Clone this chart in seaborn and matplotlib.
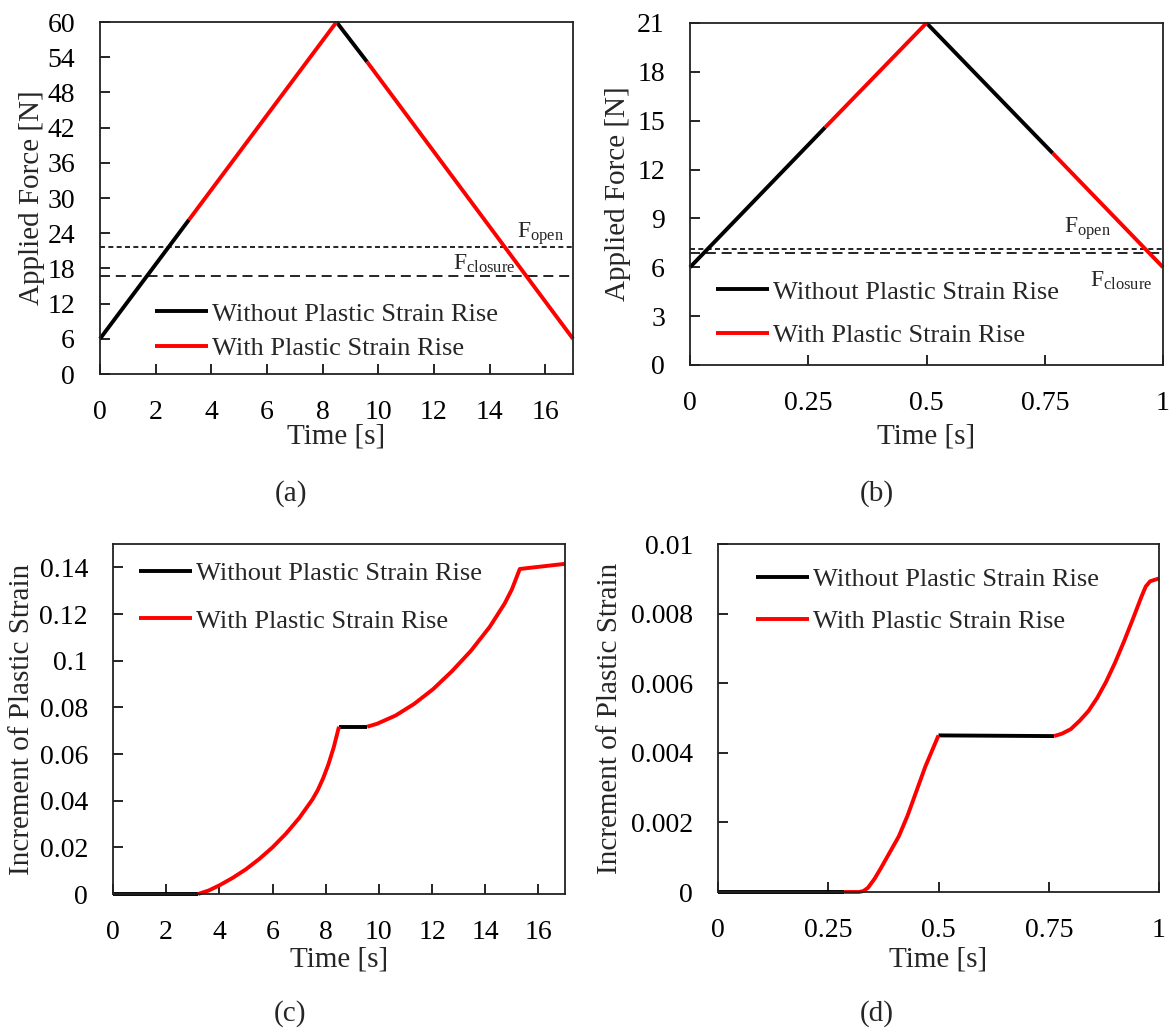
import numpy as np
import pandas as pd
import matplotlib
matplotlib.use("Agg")
import matplotlib.pyplot as plt
import seaborn as sns
from matplotlib.ticker import FuncFormatter

sns.set_style("ticks")
plt.rcParams["font.family"] = ["Liberation Serif", "DejaVu Serif"]
plt.rcParams["mathtext.fontset"] = "custom"
plt.rcParams["mathtext.rm"] = "Liberation Serif"
plt.rcParams["mathtext.it"] = "Liberation Serif:italic"

WITHOUT = "Without Plastic Strain Rise"
WITH = "With Plastic Strain Rise"

# ---------------- data ----------------
# (a) applied force, long cycle
a_time = [0, 3.2, 8.5, 9.6, 17]
a_force = [6, 26.3, 60, 53.2, 6]
a_state = [WITHOUT, WITH, WITHOUT, WITH]
a_f_open = 21.6
a_f_closure = 16.7

# (b) applied force, short cycle
b_time = [0, 0.286, 0.5, 0.767, 1.0]
b_force = [6, 14.6, 21, 13.0, 6]
b_state = [WITHOUT, WITH, WITHOUT, WITH]
b_f_open = 7.1
b_f_closure = 6.85

# (c) increment of plastic strain, long cycle
c_seg1_t = [0, 3.2]
c_seg1_v = [0, 0]
c_seg2_t = [3.2, 3.6, 4.0, 4.5, 5.0, 5.5, 6.0, 6.5, 7.0, 7.5, 7.7, 7.9, 8.1, 8.3, 8.5]
c_seg2_v = [0, 0.0015, 0.0037, 0.0069, 0.0106, 0.015, 0.02, 0.0258, 0.0325,
            0.0405, 0.0445, 0.0495, 0.0555, 0.0628, 0.0717]
c_seg3_t = [8.5, 9.56]
c_seg3_v = [0.0717, 0.0717]
c_seg4_t = [9.56, 9.92, 10.63, 11.33, 12.04, 12.75, 13.46, 14.17, 14.73, 15.0, 15.3, 17.0]
c_seg4_v = [0.0717, 0.0729, 0.0765, 0.0815, 0.0878, 0.0955, 0.1042, 0.1145,
            0.1245, 0.1305, 0.1393, 0.1415]

# (d) increment of plastic strain, short cycle
d_seg1_t = [0, 0.286]
d_seg1_v = [0, 0]
d_seg2_t = [0.286, 0.32, 0.33, 0.34, 0.355, 0.37, 0.39, 0.41, 0.43, 0.45, 0.47, 0.49, 0.5]
d_seg2_v = [0, 0, 0.00003, 0.00012, 0.00038, 0.0007, 0.00115, 0.0016, 0.0022,
            0.0029, 0.0036, 0.0042, 0.0045]
d_seg3_t = [0.5, 0.762]
d_seg3_v = [0.0045, 0.00448]
d_seg4_t = [0.762, 0.78, 0.80, 0.82, 0.84, 0.86, 0.88, 0.90, 0.92, 0.94, 0.96,
            0.97, 0.98, 1.0]
d_seg4_v = [0.00448, 0.00455, 0.00468, 0.00492, 0.0052, 0.00558, 0.00604, 0.00658,
            0.00718, 0.00782, 0.00848, 0.00878, 0.00893, 0.00901]

a_yticks = list(range(0, 61, 6))
b_yticks = list(range(0, 22, 3))
c_yticks = [0, 0.02, 0.04, 0.06, 0.08, 0.1, 0.12, 0.14]
d_yticks = [0, 0.002, 0.004, 0.006, 0.008, 0.01]
long_xticks = list(range(0, 17, 2))
short_xticks = [0, 0.25, 0.5, 0.75, 1]


# ---------------- helpers ----------------
def frame_from_points(times, values, states):
    rows = []
    for i, st in enumerate(states):
        for j in (i, i + 1):
            rows.append({"t": times[j], "v": values[j], "seg": i, "state": st})
    return pd.DataFrame(rows)


def frame_from_segments(segs):
    rows = []
    for i, (ts, vs, st) in enumerate(segs):
        for t, v in zip(ts, vs):
            rows.append({"t": t, "v": v, "seg": i, "state": st})
    return pd.DataFrame(rows)


W, H = 1172, 1032
fig = plt.figure(figsize=(W / 100, H / 100), dpi=100)


def add_ax(x0, y0, x1, y1):
    return fig.add_axes([x0 / W, (H - y1) / H, (x1 - x0) / W, (y1 - y0) / H])


palette = {WITHOUT: "black", WITH: "#ff0000"}
fmt = FuncFormatter(lambda v, p: f"{v:g}")


def draw(ax, df, xlim, ylim, xticks, yticks, ylabel, leg_xy, leg_space,
         xl_y, yl_x):
    sns.lineplot(data=df, x="t", y="v", hue="state", units="seg",
                 estimator=None, hue_order=[WITHOUT, WITH], palette=palette,
                 linewidth=2.8, ax=ax, sort=False)
    for ln in ax.get_lines():
        ln.set_solid_capstyle("butt")
        ln.set_solid_joinstyle("round")
    ax.set_xlim(*xlim)
    ax.set_ylim(*ylim)
    ax.set_xticks(xticks)
    ax.set_yticks(yticks)
    ax.xaxis.set_major_formatter(fmt)
    ax.yaxis.set_major_formatter(fmt)
    ax.tick_params(direction="in", length=7, width=1.2, labelsize=20,
                   top=False, right=False, colors="black")
    ax.tick_params(axis="y", pad=18)
    ax.tick_params(axis="x", pad=18.5)
    for s in ax.spines.values():
        s.set_visible(True)
        s.set_linewidth(1.3)
        s.set_color("#222222")
    ax.set_xlabel("Time [s]", fontsize=21)
    ax.set_ylabel(ylabel, fontsize=21)
    ax.xaxis.set_label_coords(0.5, xl_y)
    ax.yaxis.set_label_coords(yl_x, 0.5)
    handles, labels = ax.get_legend_handles_labels()
    leg = ax.legend(handles, labels, loc="center left", bbox_to_anchor=leg_xy,
                    frameon=False, fontsize=19, handlelength=2.0,
                    handletextpad=0.15, labelspacing=leg_space, borderpad=0,
                    borderaxespad=0)
    for h in leg.get_lines():
        h.set_linewidth(2.8)


# (a)
ax_a = add_ax(100, 22, 573, 374)
df_a = frame_from_points(a_time, a_force, a_state)
ax_a.axhline(a_f_open, color="black", lw=1.2, dashes=(3, 2))
ax_a.axhline(a_f_closure, color="black", lw=1.2, dashes=(6, 3.5))
draw(ax_a, df_a, (0, 17), (0, 60), long_xticks, a_yticks, "Applied Force [N]",
     (0.116, 0.122), 0.42, -0.142, -0.116)
ax_a.text(15.0, 23.2, r"F$_{\mathrm{open}}$", fontsize=17, ha="left", va="baseline")
ax_a.text(12.69, 17.7, r"F$_{\mathrm{closure}}$", fontsize=17, ha="left", va="baseline")

# (b)
ax_b = add_ax(690, 23, 1163, 365)
df_b = frame_from_points(b_time, b_force, b_state)
ax_b.axhline(b_f_open, color="black", lw=1.2, dashes=(3, 2))
ax_b.axhline(b_f_closure, color="black", lw=1.2, dashes=(6, 3.5))
draw(ax_b, df_b, (0, 1), (0, 21), short_xticks, b_yticks, "Applied Force [N]",
     (0.055, 0.150), 0.76, -0.170, -0.125)
ax_b.text(0.791, 8.1, r"F$_{\mathrm{open}}$", fontsize=17, ha="left", va="baseline")
ax_b.text(0.846, 4.79, r"F$_{\mathrm{closure}}$", fontsize=17, ha="left", va="baseline")

# (c)
ax_c = add_ax(113, 544, 565, 894)
df_c = frame_from_segments([(c_seg1_t, c_seg1_v, WITHOUT), (c_seg2_t, c_seg2_v, WITH),
                            (c_seg3_t, c_seg3_v, WITHOUT), (c_seg4_t, c_seg4_v, WITH)])
draw(ax_c, df_c, (0, 17), (0, 0.15), long_xticks, c_yticks,
     "Increment of Plastic Strain", (0.058, 0.848), 0.9, -0.151, -0.173)

# (d)
ax_d = add_ax(718, 544, 1159, 892)
df_d = frame_from_segments([(d_seg1_t, d_seg1_v, WITHOUT), (d_seg2_t, d_seg2_v, WITH),
                            (d_seg3_t, d_seg3_v, WITHOUT), (d_seg4_t, d_seg4_v, WITH)])
draw(ax_d, df_d, (0, 1), (0, 0.01), short_xticks, d_yticks,
     "Increment of Plastic Strain", (0.086, 0.837), 0.7, -0.158, -0.216)

for ax in (ax_a, ax_b, ax_c, ax_d):
    for ln in ax.get_lines():
        ln.set_clip_on(False)

fig.text(291 / W, 1 - 494 / H, "(a)", fontsize=21, ha="center", va="center")
fig.text(877 / W, 1 - 494 / H, "(b)", fontsize=21, ha="center", va="center")
fig.text(290 / W, 1 - 1014 / H, "(c)", fontsize=21, ha="center", va="center")
fig.text(877 / W, 1 - 1014 / H, "(d)", fontsize=21, ha="center", va="center")

fig.savefig("out.png", dpi=100)
